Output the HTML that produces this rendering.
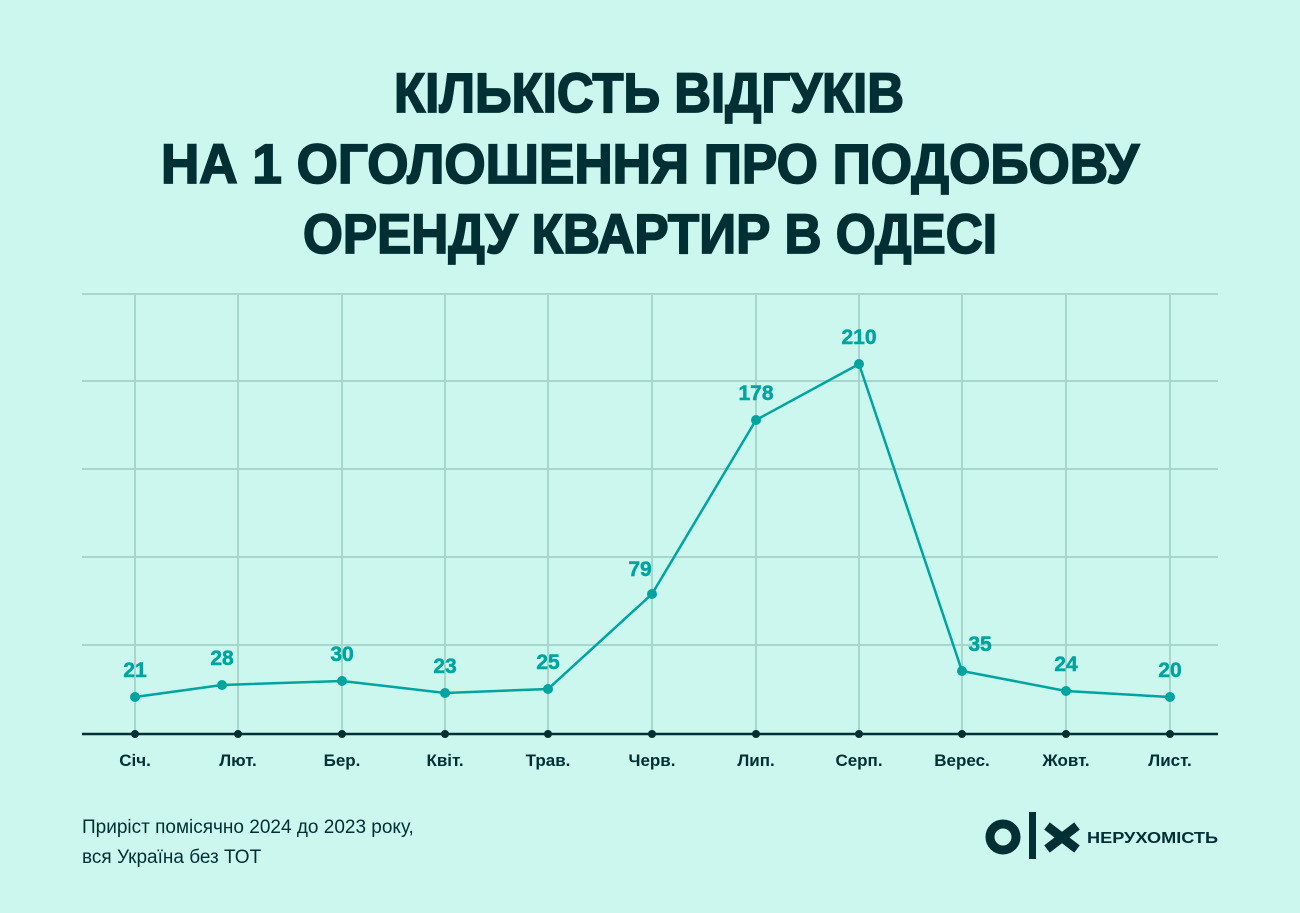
<!DOCTYPE html>
<html><head><meta charset="utf-8"><style>
html,body{margin:0;padding:0;background:#cbf7ee;}
svg{display:block}
</style></head><body>
<svg width="1300" height="913" viewBox="0 0 1300 913" xmlns="http://www.w3.org/2000/svg">
<rect width="1300" height="913" fill="#cbf7ee"/>
<g font-family="Liberation Sans, DejaVu Sans, sans-serif" font-weight="bold" fill="#002f34" stroke="#002f34" stroke-width="1.8" text-anchor="middle">
<text x="649" y="112" font-size="56" textLength="510" lengthAdjust="spacingAndGlyphs">КІЛЬКІСТЬ ВІДГУКІВ</text>
<text x="650" y="183" font-size="56" textLength="978" lengthAdjust="spacingAndGlyphs">НА 1 ОГОЛОШЕННЯ ПРО ПОДОБОВУ</text>
<text x="650" y="253" font-size="56" textLength="694" lengthAdjust="spacingAndGlyphs">ОРЕНДУ КВАРТИР В ОДЕСІ</text>
</g>
<g stroke="#a6d6cc" stroke-width="2">
<line x1="82" y1="294" x2="1218" y2="294"/>
<line x1="82" y1="381" x2="1218" y2="381"/>
<line x1="82" y1="469" x2="1218" y2="469"/>
<line x1="82" y1="557" x2="1218" y2="557"/>
<line x1="82" y1="645" x2="1218" y2="645"/>
<line x1="135" y1="294" x2="135" y2="733"/>
<line x1="238" y1="294" x2="238" y2="733"/>
<line x1="342" y1="294" x2="342" y2="733"/>
<line x1="445" y1="294" x2="445" y2="733"/>
<line x1="548" y1="294" x2="548" y2="733"/>
<line x1="652" y1="294" x2="652" y2="733"/>
<line x1="756" y1="294" x2="756" y2="733"/>
<line x1="859" y1="294" x2="859" y2="733"/>
<line x1="962" y1="294" x2="962" y2="733"/>
<line x1="1066" y1="294" x2="1066" y2="733"/>
<line x1="1170" y1="294" x2="1170" y2="733"/>
</g>
<line x1="82" y1="734" x2="1218" y2="734" stroke="#002f34" stroke-width="2.5"/>
<g fill="#002f34">
<circle cx="135" cy="734" r="4"/><circle cx="238" cy="734" r="4"/><circle cx="342" cy="734" r="4"/><circle cx="445" cy="734" r="4"/><circle cx="548" cy="734" r="4"/><circle cx="652" cy="734" r="4"/><circle cx="756" cy="734" r="4"/><circle cx="859" cy="734" r="4"/><circle cx="962" cy="734" r="4"/><circle cx="1066" cy="734" r="4"/><circle cx="1170" cy="734" r="4"/>
</g>
<polyline fill="none" stroke="#00a49f" stroke-width="2.5" points="135,697 222,685 342,681 445,693 548,689 652,594 756,420 859,364 962,671 1066,691 1170,697"/>
<g fill="#00a49f">
<circle cx="135" cy="697" r="5"/><circle cx="222" cy="685" r="5"/><circle cx="342" cy="681" r="5"/><circle cx="445" cy="693" r="5"/><circle cx="548" cy="689" r="5"/><circle cx="652" cy="594" r="5"/><circle cx="756" cy="420" r="5"/><circle cx="859" cy="364" r="5"/><circle cx="962" cy="671" r="5"/><circle cx="1066" cy="691" r="5"/><circle cx="1170" cy="697" r="5"/>
</g>
<g font-family="Liberation Sans, sans-serif" font-weight="bold" font-size="21" fill="#00a49f" stroke="#00a49f" stroke-width="0.5" text-anchor="middle">
<text x="135" y="677">21</text><text x="222" y="665">28</text><text x="342" y="661">30</text><text x="445" y="673">23</text><text x="548" y="669">25</text><text x="640" y="576">79</text><text x="756" y="400">178</text><text x="859" y="344">210</text><text x="980" y="651">35</text><text x="1066" y="671">24</text><text x="1170" y="677">20</text>
</g>
<g font-family="Liberation Sans, sans-serif" font-weight="bold" font-size="17" fill="#002f34" text-anchor="middle">
<text x="135" y="766">Січ.</text><text x="238" y="766">Лют.</text><text x="342" y="766">Бер.</text><text x="445" y="766">Квіт.</text><text x="548" y="766">Трав.</text><text x="652" y="766">Черв.</text><text x="756" y="766">Лип.</text><text x="859" y="766">Серп.</text><text x="962" y="766">Верес.</text><text x="1066" y="766">Жовт.</text><text x="1170" y="766">Лист.</text>
</g>
<g font-family="Liberation Sans, sans-serif" font-size="19" fill="#002f34">
<text x="82" y="833">Приріст помісячно 2024 до 2023 року,</text>
<text x="82" y="863">вся Україна без ТОТ</text>
</g>
<circle cx="1003" cy="837" r="13" fill="none" stroke="#002f34" stroke-width="9"/>
<rect x="1029" y="812" width="7" height="47" fill="#002f34"/>
<path d="M1047 826 L1077 849 M1077 826 L1047 849" stroke="#002f34" stroke-width="9"/>
<text x="1087" y="843" font-family="Liberation Sans, sans-serif" font-weight="bold" font-size="16" fill="#002f34" textLength="131" lengthAdjust="spacingAndGlyphs">НЕРУХОМІСТЬ</text>
</svg>
</body></html>
